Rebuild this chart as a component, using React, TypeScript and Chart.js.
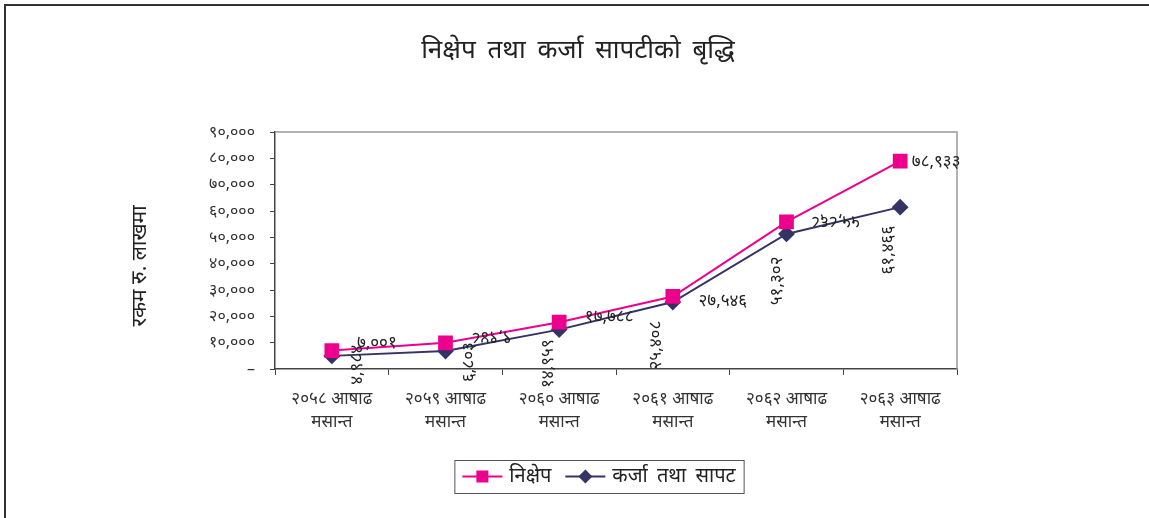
import React, { useEffect, useRef } from "react";
import { Chart, registerables } from "chart.js";

Chart.register(...registerables);

const years = ["२०५८", "२०५९", "२०६०", "२०६१", "२०६२", "२०६३"];
const categories = years.map((y) => [y + " आषाढ", "मसान्त"]);
const deposits = [7001, 9948, 17788, 27546, 55868, 78933];
const loans = [4984, 6803, 14959, 25408, 51302, 61466];
const seriesNames = ["निक्षेप", "कर्जा तथा सापट"];
const chartTitle = "निक्षेप तथा कर्जा सापटीको बृद्धि";
const yTitle = "रकम रु. लाखमा";

const DEV = "०१२३४५६७८९";
const toDev = (n: number) =>
  n.toLocaleString("en-US").replace(/\d/g, (d) => DEV[+d]);

// label placement styles (offset from point, rotation in degrees)
const depLabelStyle = [
  { dx: 45, dy: -7, rot: 0 },
  { dx: 46, dy: -6, rot: 180 },
  { dx: 50, dy: -5, rot: 0 },
  { dx: 50, dy: 5, rot: 0 },
  { dx: 49, dy: -1, rot: 180 },
  { dx: 36, dy: 1, rot: 0 },
];
const loanLabelStyle = [
  { dx: 25, dy: 9, rot: -90 },
  { dx: 24, dy: 11, rot: -90 },
  { dx: -11, dy: 34, rot: -90 },
  { dx: -17, dy: 43, rot: -90 },
  { dx: -9, dy: 47, rot: -90 },
  { dx: -12, dy: 43, rot: -90 },
];

const FONT = "'Noto Sans', 'DejaVu Sans', sans-serif";
const PINK = "#EC008C";
const NAVY = "#333366";

const framePlugin = {
  id: "framePlugin",
  beforeDraw(chart: any) {
    const ctx = chart.ctx;
    ctx.save();
    ctx.fillStyle = "#fff";
    ctx.fillRect(0, 0, chart.width, chart.height);
    ctx.strokeStyle = "#333";
    ctx.lineWidth = 2;
    ctx.beginPath();
    ctx.moveTo(5, chart.height);
    ctx.lineTo(5, 5);
    ctx.lineTo(chart.width, 5);
    ctx.stroke();
    // title
    ctx.fillStyle = "#222";
    ctx.font = "26px " + FONT;
    ctx.textAlign = "center";
    ctx.textBaseline = "middle";
    (ctx as any).wordSpacing = "5px";
    ctx.fillText(chartTitle, 578, 51);
    (ctx as any).wordSpacing = "0px";
    // y axis title
    ctx.save();
    ctx.translate(140, 266);
    ctx.rotate(-Math.PI / 2);
    ctx.font = "21px " + FONT;
    ctx.fillText(yTitle, 0, 0);
    ctx.restore();
    ctx.restore();
  },
  beforeDatasetsDraw(chart: any) {
    const { ctx, chartArea } = chart;
    ctx.save();
    ctx.strokeStyle = "#999";
    ctx.lineWidth = 1.5;
    ctx.beginPath();
    ctx.moveTo(chartArea.left, chartArea.top);
    ctx.lineTo(chartArea.right, chartArea.top);
    ctx.lineTo(chartArea.right, chartArea.bottom);
    ctx.stroke();
    ctx.restore();
  },
  afterDatasetsDraw(chart: any) {
    const ctx = chart.ctx;
    ctx.save();
    ctx.font = "17px " + FONT;
    ctx.fillStyle = "#222";
    ctx.textAlign = "center";
    ctx.textBaseline = "middle";
    const draw = (dsIndex: number, values: number[], styles: any[]) => {
      const meta = chart.getDatasetMeta(dsIndex);
      meta.data.forEach((pt: any, i: number) => {
        const s = styles[i];
        ctx.save();
        ctx.translate(pt.x + s.dx, pt.y + s.dy);
        ctx.rotate((s.rot * Math.PI) / 180);
        ctx.fillText(toDev(values[i]), 0, 0);
        ctx.restore();
      });
    };
    draw(0, deposits, depLabelStyle);
    draw(1, loans, loanLabelStyle);
    ctx.restore();
  },
  afterDraw(chart: any) {
    const ctx = chart.ctx;
    ctx.save();
    ctx.font = "20px " + FONT;
    (ctx as any).wordSpacing = "4px";
    const w0 = ctx.measureText(seriesNames[0]).width;
    const w1 = ctx.measureText(seriesNames[1]).width;
    const lineW = 40;
    const gap = 7;
    const spacing = 14;
    const pad = 8;
    const total = pad + lineW + gap + w0 + spacing + lineW + gap + w1 + pad;
    const cx = 599;
    const left = cx - total / 2;
    const top = 460;
    const h = 33;
    const cy = top + h / 2;
    ctx.strokeStyle = "#555";
    ctx.lineWidth = 1;
    ctx.strokeRect(left + 0.5, top + 0.5, total, h);
    let x = left + pad;
    // item 1
    ctx.strokeStyle = PINK;
    ctx.lineWidth = 2;
    ctx.beginPath();
    ctx.moveTo(x, cy);
    ctx.lineTo(x + lineW, cy);
    ctx.stroke();
    ctx.fillStyle = PINK;
    ctx.fillRect(x + lineW / 2 - 6, cy - 6, 12, 12);
    x += lineW + gap;
    ctx.fillStyle = "#222";
    ctx.textAlign = "left";
    ctx.textBaseline = "middle";
    ctx.fillText(seriesNames[0], x, cy);
    x += w0 + spacing;
    // item 2
    ctx.strokeStyle = NAVY;
    ctx.beginPath();
    ctx.moveTo(x, cy);
    ctx.lineTo(x + lineW, cy);
    ctx.stroke();
    ctx.fillStyle = NAVY;
    const mx = x + lineW / 2;
    ctx.beginPath();
    ctx.moveTo(mx, cy - 7);
    ctx.lineTo(mx + 7, cy);
    ctx.lineTo(mx, cy + 7);
    ctx.lineTo(mx - 7, cy);
    ctx.closePath();
    ctx.fill();
    x += lineW + gap;
    ctx.fillStyle = "#222";
    ctx.fillText(seriesNames[1], x, cy);
    ctx.restore();
  },
};

export default function App() {
  const ref = useRef<HTMLCanvasElement | null>(null);
  useEffect(() => {
    if (!ref.current) return;
    const chart = new Chart(ref.current, {
      type: "line",
      data: {
        labels: categories,
        datasets: [
          {
            label: seriesNames[0],
            data: deposits,
            borderColor: PINK,
            backgroundColor: PINK,
            borderWidth: 2,
            pointStyle: "rect",
            pointRadius: 9,
            pointHoverRadius: 9,
            tension: 0,
          },
          {
            label: seriesNames[1],
            data: loans,
            borderColor: NAVY,
            backgroundColor: NAVY,
            borderWidth: 2,
            pointStyle: "rectRot",
            pointRadius: 7,
            pointHoverRadius: 7,
            tension: 0,
          },
        ],
      },
      options: {
        responsive: false,
        animation: false,
        devicePixelRatio: 1,
        layout: { padding: { left: 118, right: 192, top: 132, bottom: 79 } },
        plugins: {
          legend: { display: false },
          title: { display: false },
          tooltip: { enabled: false },
        },
        scales: {
          x: {
            type: "category",
            offset: true,
            afterFit: (s: any) => {
              s.height = 70;
            },
            grid: {
              offset: true,
              drawOnChartArea: false,
              drawTicks: true,
              tickLength: 6,
              color: "#444",
            },
            border: { color: "#444", width: 1.5 },
            ticks: {
              color: "#333",
              font: { family: FONT, size: 17, lineHeight: 1.35 },
              padding: 13,
              maxRotation: 0,
              autoSkip: false,
            },
          },
          y: {
            min: 0,
            max: 90000,
            afterFit: (s: any) => {
              s.width = 157;
            },
            grid: {
              drawOnChartArea: false,
              drawTicks: true,
              tickLength: 5,
              color: "#444",
            },
            border: { color: "#444", width: 1.5 },
            title: { display: false },
            ticks: {
              stepSize: 10000,
              color: "#333",
              padding: 15,
              font: { family: FONT, size: 16 },
              callback: (v: any) => (Number(v) === 0 ? "–" : toDev(Number(v))),
            },
          },
        },
      },
      plugins: [framePlugin],
    });
    return () => chart.destroy();
  }, []);
  return (
    <div
      style={{
        position: "fixed",
        left: 0,
        top: 0,
        width: 1149,
        height: 518,
        background: "#fff",
      }}
    >
      <canvas ref={ref} width={1149} height={518} style={{ display: "block" }} />
    </div>
  );
}
